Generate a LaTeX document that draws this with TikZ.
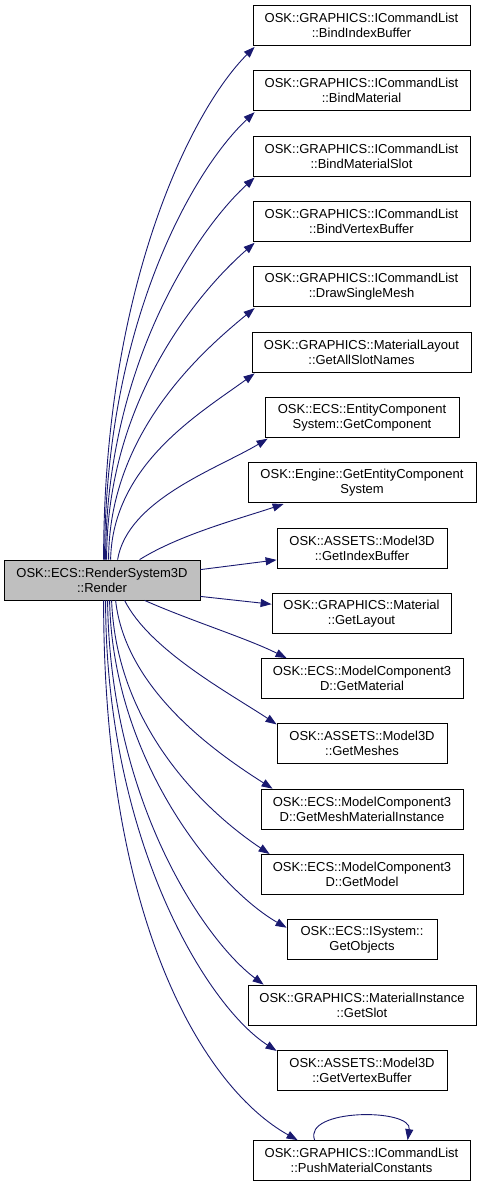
\documentclass[tikz,border=0pt]{standalone}
\usepackage{fontspec}
\setmainfont{Liberation Sans}
\usetikzlibrary{arrows.meta,calc}
\definecolor{edgeblue}{HTML}{191970}
\definecolor{nodegray}{HTML}{BFBFBF}
\tikzset{
  fnbox/.style={draw=black, line width=0.8pt, rectangle, inner sep=0pt, minimum height=40pt,
    align=center, font=\fontsize{13}{15}\selectfont},
  edge/.style={draw=edgeblue, line width=0.9pt, -{Triangle[length=11pt,width=8pt]}}
}
\begin{document}
\begin{tikzpicture}[x=1pt,y=-1pt]
\useasboundingbox (0,0) rectangle (481,1187);
\node[fnbox, fill=nodegray, minimum width=196pt] (r) at (102,580) {OSK::ECS::RenderSystem3D\\::Render};
\node[fnbox, minimum width=217pt] (b1) at (361.5,25.5) {OSK::GRAPHICS::ICommandList\\::BindIndexBuffer};
\node[fnbox, minimum width=217pt] (b2) at (361.5,90.8) {OSK::GRAPHICS::ICommandList\\::BindMaterial};
\node[fnbox, minimum width=217pt] (b3) at (361.5,156.1) {OSK::GRAPHICS::ICommandList\\::BindMaterialSlot};
\node[fnbox, minimum width=217pt] (b4) at (361.5,221.4) {OSK::GRAPHICS::ICommandList\\::BindVertexBuffer};
\node[fnbox, minimum width=217pt] (b5) at (361.5,286.7) {OSK::GRAPHICS::ICommandList\\::DrawSingleMesh};
\node[fnbox, minimum width=219pt] (b6) at (361.5,352) {OSK::GRAPHICS::MaterialLayout\\::GetAllSlotNames};
\node[fnbox, minimum width=194pt] (b7) at (362,417.3) {OSK::ECS::EntityComponent\\System::GetComponent};
\node[fnbox, minimum width=228pt] (b8) at (362,482.6) {OSK::Engine::GetEntityComponent\\System};
\node[fnbox, minimum width=170pt] (b9) at (362,547.9) {OSK::ASSETS::Model3D\\::GetIndexBuffer};
\node[fnbox, minimum width=179pt] (b10) at (361.5,613.2) {OSK::GRAPHICS::Material\\::GetLayout};
\node[fnbox, minimum width=202pt] (b11) at (362,678.5) {OSK::ECS::ModelComponent3\\D::GetMaterial};
\node[fnbox, minimum width=170pt] (b12) at (362,743.8) {OSK::ASSETS::Model3D\\::GetMeshes};
\node[fnbox, minimum width=202pt] (b13) at (362,809.1) {OSK::ECS::ModelComponent3\\D::GetMeshMaterialInstance};
\node[fnbox, minimum width=202pt] (b14) at (362,874.4) {OSK::ECS::ModelComponent3\\D::GetModel};
\node[fnbox, minimum width=150pt] (b15) at (362,939.7) {OSK::ECS::ISystem::\\GetObjects};
\node[fnbox, minimum width=228pt] (b16) at (362,1005) {OSK::GRAPHICS::MaterialInstance\\::GetSlot};
\node[fnbox, minimum width=170pt] (b17) at (362,1070.3) {OSK::ASSETS::Model3D\\::GetVertexBuffer};
\node[fnbox, minimum width=217pt] (b18) at (361.5,1160.5) {OSK::GRAPHICS::ICommandList\\::PushMaterialConstants};

\draw[edge] ($(r.north west)+(100,0)$) .. controls +(0,-270) and +(-65,65) .. ($(b1.south west)+(2,1)$);
\draw[edge] ($(r.north west)+(101,0)$) .. controls +(0,-235) and +(-62,58) .. ($(b2.south west)+(2,1)$);
\draw[edge] ($(r.north west)+(102,0)$) .. controls +(0,-195) and +(-57,52) .. ($(b3.south west)+(2,1)$);
\draw[edge] ($(r.north west)+(103,0)$) .. controls +(0,-160) and +(-55,48) .. ($(b4.south west)+(2,1)$);
\draw[edge] ($(r.north west)+(105,0)$) .. controls +(0,-125) and +(-55,45) .. ($(b5.south west)+(2,1)$);
\draw[edge] ($(r.north west)+(107,0)$) .. controls +(2,-95) and +(-55,40) .. ($(b6.south west)+(3,1)$);
\draw[edge] ($(r.north west)+(114,0)$) .. controls +(10,-60) and +(-50,30) .. ($(b7.south west)+(3,1)$);
\draw[edge] ($(r.north west)+(136,0)$) .. controls +(40,-25) and +(-45,15) .. ($(b8.south west)+(36,1)$);
\draw[edge] ($(r.north east)+(0,10)$) -- ($(b9.west)+(0,12)$);
\draw[edge] ($(r.south east)+(0,-4)$) -- ($(b10.west)+(0,-9)$);
\draw[edge] ($(r.south west)+(141,0)$) .. controls +(45,20) and +(-40,-20) .. ($(b11.north west)+(26,0)$);
\draw[edge] ($(r.south west)+(121,0)$) .. controls +(25,50) and +(-45,-30) .. ($(b12.north west)+(0,1)$);
\draw[edge] ($(r.south west)+(112,0)$) .. controls +(10,90) and +(-55,-35) .. ($(b13.north west)+(12,0)$);
\draw[edge] ($(r.south west)+(108,0)$) .. controls +(5,130) and +(-60,-40) .. ($(b14.north west)+(9,0)$);
\draw[edge] ($(r.south west)+(106,0)$) .. controls +(3,160) and +(-70,-40) .. ($(b15.west)+(0,-12)$);
\draw[edge] ($(r.south west)+(104,0)$) .. controls +(2,200) and +(-60,-45) .. ($(b16.north west)+(16,0)$);
\draw[edge] ($(r.south west)+(102,0)$) .. controls +(0,240) and +(-70,-45) .. ($(b17.north west)+(0,1)$);
\draw[edge] ($(r.south west)+(100,0)$) .. controls +(0,330) and +(-90,-50) .. ($(b18.north west)+(45,0)$);
\draw[edge] ($(b18.north west)+(62,0)$) .. controls +(-12,-32) and +(5,-32) .. ($(b18.north west)+(155,0)$);
\end{tikzpicture}
\end{document}
